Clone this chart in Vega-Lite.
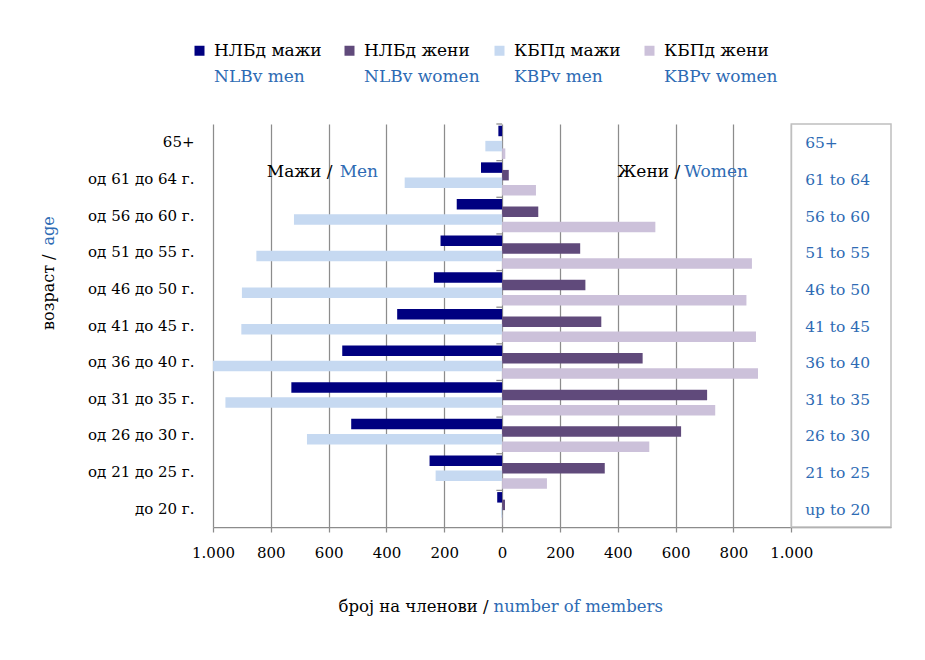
{
  "$schema": "https://vega.github.io/schema/vega-lite/v6.json",
  "width": 678,
  "height": 403,
  "autosize": {"type": "none"},
  "padding": {"left": 213, "top": 124, "right": 34, "bottom": 133},
  "background": "white",
  "datasets": {
    "bars": [
      {"age": "65+", "series": "НЛБд мажи", "value": -13},
      {"age": "65+", "series": "НЛБд жени", "value": 0},
      {"age": "65+", "series": "КБПд мажи", "value": -58},
      {"age": "65+", "series": "КБПд жени", "value": 11},
      {"age": "од 61 до 64 г.", "series": "НЛБд мажи", "value": -73},
      {"age": "од 61 до 64 г.", "series": "НЛБд жени", "value": 23},
      {"age": "од 61 до 64 г.", "series": "КБПд мажи", "value": -337},
      {"age": "од 61 до 64 г.", "series": "КБПд жени", "value": 117},
      {"age": "од 56 до 60 г.", "series": "НЛБд мажи", "value": -157},
      {"age": "од 56 до 60 г.", "series": "НЛБд жени", "value": 125},
      {"age": "од 56 до 60 г.", "series": "КБПд мажи", "value": -720},
      {"age": "од 56 до 60 г.", "series": "КБПд жени", "value": 530},
      {"age": "од 51 до 55 г.", "series": "НЛБд мажи", "value": -213},
      {"age": "од 51 до 55 г.", "series": "НЛБд жени", "value": 270},
      {"age": "од 51 до 55 г.", "series": "КБПд мажи", "value": -850},
      {"age": "од 51 до 55 г.", "series": "КБПд жени", "value": 864},
      {"age": "од 46 до 50 г.", "series": "НЛБд мажи", "value": -236},
      {"age": "од 46 до 50 г.", "series": "НЛБд жени", "value": 288},
      {"age": "од 46 до 50 г.", "series": "КБПд мажи", "value": -900},
      {"age": "од 46 до 50 г.", "series": "КБПд жени", "value": 845},
      {"age": "од 41 до 45 г.", "series": "НЛБд мажи", "value": -363},
      {"age": "од 41 до 45 г.", "series": "НЛБд жени", "value": 343},
      {"age": "од 41 до 45 г.", "series": "КБПд мажи", "value": -902},
      {"age": "од 41 до 45 г.", "series": "КБПд жени", "value": 878},
      {"age": "од 36 до 40 г.", "series": "НЛБд мажи", "value": -553},
      {"age": "од 36 до 40 г.", "series": "НЛБд жени", "value": 486},
      {"age": "од 36 до 40 г.", "series": "КБПд мажи", "value": -1000},
      {"age": "од 36 до 40 г.", "series": "КБПд жени", "value": 885},
      {"age": "од 31 до 35 г.", "series": "НЛБд мажи", "value": -729},
      {"age": "од 31 до 35 г.", "series": "НЛБд жени", "value": 709},
      {"age": "од 31 до 35 г.", "series": "КБПд мажи", "value": -957},
      {"age": "од 31 до 35 г.", "series": "КБПд жени", "value": 737},
      {"age": "од 26 до 30 г.", "series": "НЛБд мажи", "value": -522},
      {"age": "од 26 до 30 г.", "series": "НЛБд жени", "value": 619},
      {"age": "од 26 до 30 г.", "series": "КБПд мажи", "value": -675},
      {"age": "од 26 до 30 г.", "series": "КБПд жени", "value": 509},
      {"age": "од 21 до 25 г.", "series": "НЛБд мажи", "value": -251},
      {"age": "од 21 до 25 г.", "series": "НЛБд жени", "value": 355},
      {"age": "од 21 до 25 г.", "series": "КБПд мажи", "value": -230},
      {"age": "од 21 до 25 г.", "series": "КБПд жени", "value": 155},
      {"age": "до 20 г.", "series": "НЛБд мажи", "value": -17},
      {"age": "до 20 г.", "series": "НЛБд жени", "value": 10},
      {"age": "до 20 г.", "series": "КБПд мажи", "value": -3},
      {"age": "до 20 г.", "series": "КБПд жени", "value": 1}
    ],
    "ages": [
      {"age": "65+", "en": "65+"},
      {"age": "од 61 до 64 г.", "en": "61 to 64"},
      {"age": "од 56 до 60 г.", "en": "56 to 60"},
      {"age": "од 51 до 55 г.", "en": "51 to 55"},
      {"age": "од 46 до 50 г.", "en": "46 to 50"},
      {"age": "од 41 до 45 г.", "en": "41 to 45"},
      {"age": "од 36 до 40 г.", "en": "36 to 40"},
      {"age": "од 31 до 35 г.", "en": "31 to 35"},
      {"age": "од 26 до 30 г.", "en": "26 to 30"},
      {"age": "од 21 до 25 г.", "en": "21 to 25"},
      {"age": "до 20 г.", "en": "up to 20"}
    ],
    "notes": [
      {"t": "Мажи /", "row": "men_mk"},
      {"t": "Men", "row": "men_en"},
      {"t": "Жени /", "row": "women_mk"},
      {"t": "Women", "row": "women_en"}
    ],
    "box": [{"part": "english age labels"}]
  },
  "config": {
    "font": "DejaVu Serif",
    "view": {"stroke": null},
    "axis": {"labelFont": "DejaVu Serif", "titleFont": "DejaVu Serif", "titleFontWeight": "normal"},
    "text": {"font": "DejaVu Serif"},
    "legend": {
      "orient": "none",
      "legendX": -22,
      "legendY": -82,
      "direction": "horizontal",
      "columns": 4,
      "gridAlign": "all",
      "columnPadding": 11,
      "rowPadding": 8,
      "padding": 0,
      "symbolType": "square",
      "symbolSize": 100,
      "symbolStrokeWidth": 0,
      "labelFont": "DejaVu Serif",
      "labelFontSize": 17,
      "labelOffset": 6,
      "labelLimit": 400
    }
  },
  "layer": [
    {
      "data": {"name": "bars"},
      "mark": {"type": "bar", "height": 10.5},
      "encoding": {
        "y": {
          "field": "age", "type": "nominal", "sort": null,
          "scale": {"domain": ["65+", "од 61 до 64 г.", "од 56 до 60 г.", "од 51 до 55 г.", "од 46 до 50 г.", "од 41 до 45 г.", "од 36 до 40 г.", "од 31 до 35 г.", "од 26 до 30 г.", "од 21 до 25 г.", "до 20 г."], "paddingInner": 0, "paddingOuter": 0},
          "axis": {
            "orient": "left", "domain": false, "ticks": false, "grid": false,
            "labelFontSize": 15, "labelColor": "black", "labelPadding": 19,
            "title": "возраст /", "titleAngle": 270, "titleAlign": "right", "titleBaseline": "middle",
            "titleX": -165, "titleY": 130, "titleFontSize": 16, "titleColor": "black"
          }
        },
        "yOffset": {
          "field": "series", "type": "nominal",
          "scale": {"domain": ["НЛБд мажи", "НЛБд жени", "КБПд мажи", "КБПд жени"], "paddingInner": 0, "paddingOuter": 0.42}
        },
        "x": {
          "field": "value", "type": "quantitative", "stack": null,
          "scale": {"domain": [-1000, 1345], "nice": false, "zero": false},
          "axis": {
            "orient": "bottom",
            "values": [-1000, -800, -600, -400, -200, 0, 200, 400, 600, 800, 1000],
            "labelExpr": "replace(format(abs(datum.value), ','), ',', '.')",
            "labelFlush": false, "labelOverlap": false,
            "grid": true, "gridColor": "#8c8c8c", "gridWidth": 1.25,
            "domainColor": "#8c8c8c", "domainWidth": 1.25,
            "tickColor": "#8c8c8c", "tickSize": 5, "tickWidth": 1.25,
            "labelFontSize": 15, "labelPadding": 13, "labelColor": "black",
            "title": "број на членови /", "titleAlign": "right", "titleBaseline": "middle",
            "titleX": 275, "titleY": 79, "titleFontSize": 16.5, "titleColor": "black"
          }
        },
        "color": {
          "field": "series", "type": "nominal",
          "scale": {
            "domain": ["НЛБд мажи", "НЛБд жени", "КБПд мажи", "КБПд жени", "NLBv men", "NLBv women", "KBPv men", "KBPv women"],
            "range": ["#000080", "#604a7b", "#c6d9f1", "#ccc1da", "transparent", "transparent", "transparent", "transparent"]
          },
          "legend": {
            "title": null,
            "labelColor": {"expr": "indexof(datum.value, 'v ') >= 0 ? '#2e6bb4' : 'black'"}
          }
        }
      }
    },
    {
      "data": {"name": "ages"},
      "mark": {"type": "text", "align": "left", "baseline": "middle", "fontSize": 15.5, "color": "#2e6bb4", "dy": 1},
      "encoding": {
        "y": {
          "field": "age", "type": "nominal", "sort": null,
          "scale": {"domain": ["65+", "од 61 до 64 г.", "од 56 до 60 г.", "од 51 до 55 г.", "од 46 до 50 г.", "од 41 до 45 г.", "од 36 до 40 г.", "од 31 до 35 г.", "од 26 до 30 г.", "од 21 до 25 г.", "до 20 г."]},
          "axis": {
            "orient": "right", "domain": false, "ticks": false, "labels": false, "grid": false,
            "title": "age", "titleAngle": 270, "titleAlign": "left", "titleBaseline": "middle",
            "titleX": -843, "titleY": 121, "titleFontSize": 16, "titleColor": "#2e6bb4"
          }
        },
        "x": {
          "datum": 1048, "type": "quantitative",
          "scale": {"domain": [-1000, 1345], "nice": false, "zero": false},
          "axis": {
            "orient": "top", "domain": false, "ticks": false, "labels": false, "grid": false,
            "title": "number of members", "titleAlign": "left", "titleBaseline": "middle",
            "titleX": 280, "titleY": 482, "titleFontSize": 16.5, "titleColor": "#2e6bb4"
          }
        },
        "text": {"field": "en", "type": "nominal"}
      }
    },
    {
      "data": {"name": "ages"},
      "mark": {"type": "rule", "color": "#8c8c8c", "strokeWidth": 1.25},
      "encoding": {
        "y": {"field": "age", "type": "nominal", "sort": null, "bandPosition": 0, "axis": null,
              "scale": {"domain": ["65+", "од 61 до 64 г.", "од 56 до 60 г.", "од 51 до 55 г.", "од 46 до 50 г.", "од 41 до 45 г.", "од 36 до 40 г.", "од 31 до 35 г.", "од 26 до 30 г.", "од 21 до 25 г.", "до 20 г."]}},
        "x": {"datum": -20, "type": "quantitative", "axis": null},
        "x2": {"datum": 0}
      }
    },
    {
      "data": {"name": "box"},
      "mark": {"type": "rect", "fill": "transparent", "stroke": "#bfbfbf", "strokeWidth": 1.5},
      "encoding": {
        "x": {"datum": 1000, "type": "quantitative", "axis": null},
        "x2": {"datum": 1345}
      }
    },
    {
      "data": {"name": "notes"},
      "transform": [{"filter": "datum.row == 'men_mk'"}],
      "mark": {"type": "text", "align": "right", "baseline": "middle", "fontSize": 17, "color": "black", "dy": -7},
      "encoding": {
        "x": {"datum": -587, "type": "quantitative", "axis": null},
        "y": {"datum": "од 61 до 64 г.", "type": "nominal", "axis": null},
        "text": {"field": "t", "type": "nominal"}
      }
    },
    {
      "data": {"name": "notes"},
      "transform": [{"filter": "datum.row == 'men_en'"}],
      "mark": {"type": "text", "align": "left", "baseline": "middle", "fontSize": 17, "color": "#2e6bb4", "dy": -7},
      "encoding": {
        "x": {"datum": -562, "type": "quantitative", "axis": null},
        "y": {"datum": "од 61 до 64 г.", "type": "nominal", "axis": null},
        "text": {"field": "t", "type": "nominal"}
      }
    },
    {
      "data": {"name": "notes"},
      "transform": [{"filter": "datum.row == 'women_mk'"}],
      "mark": {"type": "text", "align": "right", "baseline": "middle", "fontSize": 17, "color": "black", "dy": -7},
      "encoding": {
        "x": {"datum": 616, "type": "quantitative", "axis": null},
        "y": {"datum": "од 61 до 64 г.", "type": "nominal", "axis": null},
        "text": {"field": "t", "type": "nominal"}
      }
    },
    {
      "data": {"name": "notes"},
      "transform": [{"filter": "datum.row == 'women_en'"}],
      "mark": {"type": "text", "align": "left", "baseline": "middle", "fontSize": 17, "color": "#2e6bb4", "dy": -7},
      "encoding": {
        "x": {"datum": 630, "type": "quantitative", "axis": null},
        "y": {"datum": "од 61 до 64 г.", "type": "nominal", "axis": null},
        "text": {"field": "t", "type": "nominal"}
      }
    }
  ],
  "resolve": {"axis": {"x": "independent", "y": "independent"}}
}
